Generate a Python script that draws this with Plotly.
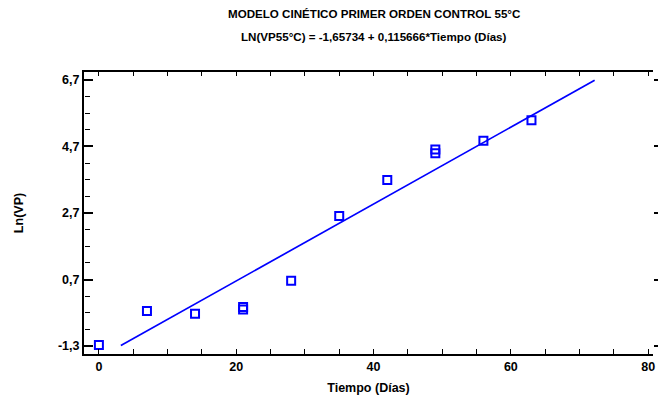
import plotly.graph_objects as go

# Observed data: time (days) and ln(VP) at 55 °C
tiempo = [0, 7, 14, 21, 21, 28, 35, 42, 49, 49, 56, 63]
ln_vp = [-1.27, -0.25, -0.33, -0.13, -0.20, 0.66, 2.61, 3.69, 4.61, 4.50, 4.87, 5.49]

# First-order kinetic model coefficients
intercepto = -1.65734
pendiente = 0.115666
t_modelo = [3.2, 72.2]
y_modelo = [intercepto + pendiente * t for t in t_modelo]

y_ticks = [-1.3, 0.7, 2.7, 4.7, 6.7]
y_minor = [-1.3 + 0.5 * i for i in range(17)]
x_ticks = [0, 20, 40, 60, 80]
x_minor = [5 * i for i in range(17)]

font_family = "Liberation Sans, Arial, sans-serif"
azul = "#0000FF"
X_RANGE = [-2.17, 80.7]
Y_RANGE = [-1.54, 6.94]

fig = go.Figure()

fig.add_trace(go.Scatter(
    x=t_modelo, y=y_modelo, mode="lines",
    line=dict(color=azul, width=1.7),
    hoverinfo="skip", showlegend=False,
))
fig.add_trace(go.Scatter(
    x=tiempo, y=ln_vp, mode="markers",
    marker=dict(symbol="square-open", size=8, color=azul, line=dict(width=2, color=azul)),
    showlegend=False,
))
# empty traces that carry the extra tick axes
for xa, ya in [("x2", "y"), ("x", "y2"), ("x", "y3")]:
    fig.add_trace(go.Scatter(x=[None], y=[None], xaxis=xa, yaxis=ya,
                             showlegend=False, hoverinfo="skip"))

tick_font = dict(family=font_family, size=12.5, color="black")
title_font = dict(family=font_family, size=12.5, color="black")
plain = dict(showgrid=False, zeroline=False, showticklabels=False, showline=False)

# bottom axis: a tick every 5 days, labels only on the major values
x_text = [f"<b>{v}</b>" if v in x_ticks else "" for v in x_minor]

fig.update_layout(
    width=662, height=401,
    margin=dict(l=84, r=5, t=72, b=47),
    paper_bgcolor="white", plot_bgcolor="white",
    font=dict(family=font_family, size=11, color="black"),
    xaxis=dict(
        range=X_RANGE, tickmode="array",
        tickvals=x_minor, ticktext=x_text,
        ticks="inside", ticklen=5, tickwidth=1.3, tickcolor="black",
        showline=True, linecolor="black", linewidth=2,
        showgrid=False, zeroline=False, tickfont=tick_font,
        title=dict(text="<b>Tiempo (Días)</b>", standoff=10, font=title_font),
    ),
    # top border with its ticks
    xaxis2=dict(overlaying="x", side="top", range=X_RANGE,
                tickvals=x_minor, ticks="inside", ticklen=4, tickwidth=1,
                tickcolor="black", showgrid=False, zeroline=False,
                showticklabels=False, showline=True, linecolor="black",
                linewidth=2),
    yaxis=dict(
        range=Y_RANGE, tickmode="array",
        tickvals=y_ticks,
        ticktext=[f"<b>{v:.1f}</b>".replace(".", ",") for v in y_ticks],
        ticks="inside", ticklen=9, tickwidth=1.5, tickcolor="black",
        showline=True, linecolor="black", linewidth=2,
        showgrid=False, zeroline=False, tickfont=tick_font,
        title=dict(text="<b>Ln(VP)</b>", standoff=32, font=title_font),
    ),
    # short marks on the right side
    yaxis2=dict(overlaying="y", side="right", range=Y_RANGE,
                tickvals=y_ticks, ticks="outside", ticklen=4, tickwidth=1.5,
                tickcolor="black", **plain),
    # minor ticks pointing right from the left axis
    yaxis3=dict(overlaying="y", side="right", anchor="free", position=0,
                range=Y_RANGE, tickvals=y_minor, ticks="outside", ticklen=5,
                tickwidth=1, tickcolor="black", **plain),
    annotations=[
        dict(text="<b>MODELO CINÉTICO PRIMER ORDEN CONTROL 55°C</b>",
             x=0.51, y=13, xref="paper", yref="paper", showarrow=False,
             font=dict(family=font_family, size=11.6, color="black")),
        dict(text="<b>LN(VP55°C) = -1,65734 + 0,115666*Tiempo (Días)</b>",
             x=0.51, y=36, xref="paper", yref="paper", showarrow=False,
             font=dict(family=font_family, size=11.6, color="black")),
    ],
)

# title lines are placed in pixels from the top of the page
plot_h = 401 - 72 - 47
for ann in fig.layout.annotations:
    px = ann.y
    ann.y = 1 + (72 - px) / plot_h
    ann.yanchor = "middle"

fig.write_html("out.html")
